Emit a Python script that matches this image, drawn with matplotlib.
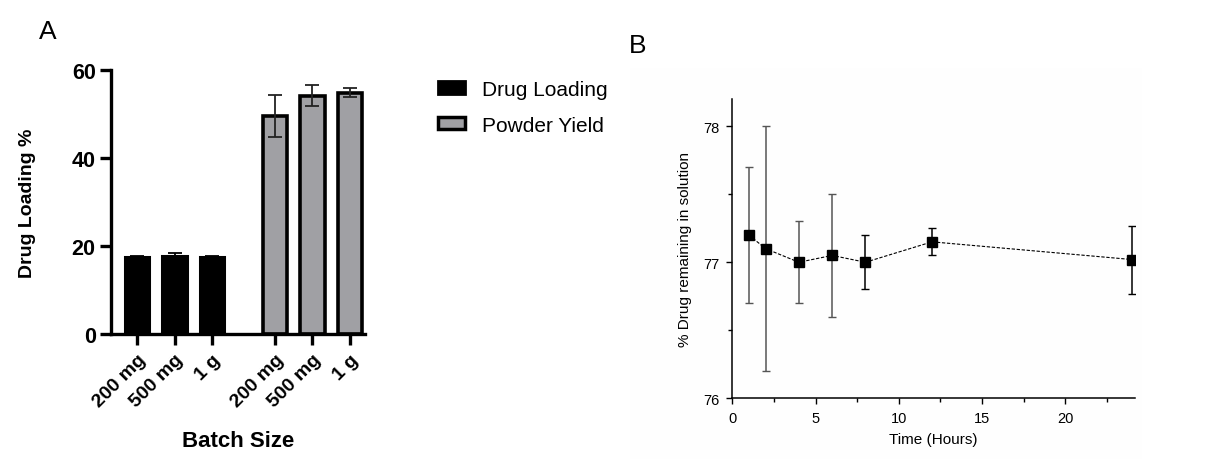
import numpy as np
import matplotlib
matplotlib.use("Agg")
import matplotlib.pyplot as plt
from matplotlib.patches import Patch, Rectangle

plt.rcParams['font.family'] = ['Liberation Sans', 'DejaVu Sans']

# panel A data
batch_labels = ["200 mg", "500 mg", "1 g", "200 mg", "500 mg", "1 g"]
drug_loading = [17.5, 17.8, 17.5]
drug_loading_err = [0.3, 0.5, 0.3]
powder_yield = [49.6, 54.2, 54.8]
powder_yield_err = [4.8, 2.4, 1.0]

# panel B data
time_h = [1, 2, 4, 6, 8, 12, 24]
drug_remaining = [77.2, 77.1, 77.0, 77.05, 77.0, 77.15, 77.02]
drug_remaining_err = [0.5, 0.9, 0.3, 0.45, 0.2, 0.1, 0.25]

fig = plt.figure(figsize=(12.05, 4.6), dpi=100)

# ---- panel A
axA = fig.add_axes([0.0921, 0.2717, 0.2109, 0.574])
posA = np.array([0, 1, 2])
posB = posA + 3.67
axA.bar(posA, drug_loading, width=0.65, color="black", edgecolor="black", linewidth=2.2)
axA.errorbar(posA, drug_loading, yerr=drug_loading_err, fmt="none", ecolor="black",
             elinewidth=1.3, capsize=5, capthick=1.3)
axA.bar(posB, powder_yield, width=0.65, color="#a0a0a4", edgecolor="black", linewidth=2.6)
axA.errorbar(posB, powder_yield, yerr=powder_yield_err, fmt="none", ecolor="#222222",
             elinewidth=1.3, capsize=5, capthick=1.3)
axA.set_xlim(-0.69, 6.07)
axA.set_ylim(0, 60)
axA.set_yticks([0, 20, 40, 60])
axA.set_xticks(np.concatenate([posA, posB]))
axA.set_xticklabels(batch_labels, rotation=45, ha="right", rotation_mode="anchor")
for s in ["top", "right"]:
    axA.spines[s].set_visible(False)
for s in ["left", "bottom"]:
    axA.spines[s].set_linewidth(2.4)
axA.tick_params(axis="y", width=2.4, length=8, labelsize=15.5, pad=3)
axA.tick_params(axis="x", width=2.4, length=8, labelsize=14, pad=4)
for lab in axA.get_xticklabels() + axA.get_yticklabels():
    lab.set_fontweight("bold")
axA.set_ylabel("Drug Loading %", fontsize=14, fontweight="bold", labelpad=26)
axA.set_xlabel("Batch Size", fontsize=16, fontweight="bold", labelpad=14)

handles = [Patch(facecolor="black", edgecolor="black", linewidth=2),
           Patch(facecolor="#a0a0a4", edgecolor="black", linewidth=2.5)]
fig.legend(handles, ["Drug Loading", "Powder Yield"], loc="upper left",
           bbox_to_anchor=(0.348, 0.865), frameon=False, fontsize=15,
           handlelength=1.3, handleheight=0.55, labelspacing=0.8, handletextpad=0.8)

fig.text(0.032, 0.915, "A", fontsize=19)
fig.text(0.522, 0.885, "B", fontsize=19)

# ---- panel B
fig.patches.append(Rectangle((0.523, 0.0), 0.425, 0.85, transform=fig.transFigure,
                             facecolor="#fefefe", edgecolor="none", zorder=-1))
axB = fig.add_axes([0.6077, 0.132, 0.3343, 0.6506])
axB.patch.set_alpha(0)
colors = ["#555555"] * 4 + ["black"] * 3
for t, v, e, c in zip(time_h, drug_remaining, drug_remaining_err, colors):
    axB.errorbar([t], [v], yerr=[e], fmt="none", ecolor=c, elinewidth=1.1,
                 capsize=3, capthick=1.0)
axB.plot(time_h, drug_remaining, linestyle=(0, (3, 1.5)), color="black", linewidth=0.8,
         marker="s", markersize=7, markerfacecolor="black", markeredgecolor="black")
axB.set_xlim(0, 24.2)
axB.set_ylim(76, 78.2)
axB.set_xticks([0, 5, 10, 15, 20])
axB.set_xticks(np.arange(2.5, 24, 5), minor=True)
axB.set_yticks([76, 77, 78])
axB.set_yticks([76.5, 77.5], minor=True)
for s in ["top", "right"]:
    axB.spines[s].set_visible(False)
for s in ["left", "bottom"]:
    axB.spines[s].set_linewidth(1.1)
axB.tick_params(which="major", length=4, width=1, labelsize=10.5, pad=5)
axB.tick_params(which="minor", length=3, width=1)
axB.set_xlabel("Time (Hours)", fontsize=11, labelpad=5)
axB.set_ylabel("% Drug remaining in solution", fontsize=11, labelpad=8)

fig.savefig("out.png", dpi=100)
